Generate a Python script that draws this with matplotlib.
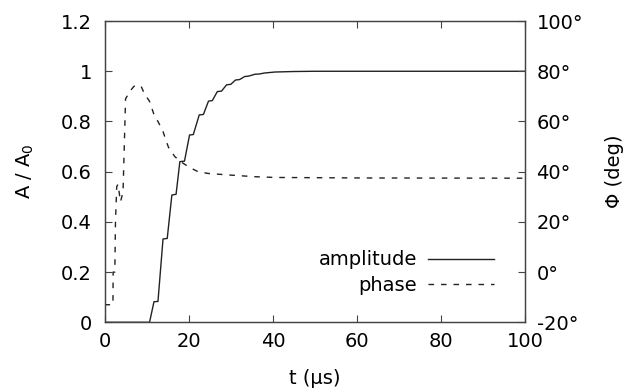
import matplotlib

matplotlib.use("Agg")
import matplotlib.pyplot as plt

plt.rc("font", family="DejaVu Sans", size=14)

# amplitude A/A0 vs time (us)
amp_t = [0, 10.7, 11.75, 12.7, 13.9, 14.9, 16.0, 17.0, 17.9, 19.0, 20.2, 21.1,
         22.5, 23.5, 24.7, 25.6, 26.8, 27.8, 29.0, 30.0, 31.1, 32.1, 33.3,
         34.3, 35.7, 36.7, 38.0, 40.5, 45, 50, 100]
amp_a = [0, 0, 0.082, 0.083, 0.332, 0.334, 0.507, 0.51, 0.64, 0.642, 0.746,
         0.748, 0.826, 0.828, 0.881, 0.883, 0.919, 0.921, 0.946, 0.948, 0.965,
         0.967, 0.979, 0.981, 0.988, 0.989, 0.993, 0.997, 0.999, 1.0, 1.0]

# phase (deg) vs time (us)
ph_t = [0, 2.0, 2.05, 2.45, 2.6, 2.9, 3.2, 3.8, 4.4, 5.0, 6.0, 7.0, 7.9, 8.7,
        9.5, 10.7, 11.9, 12.7, 13.9, 14.7, 15.2, 16.7, 18.1, 19.0, 20.2, 22.2,
        24.6, 29.4, 35.7, 40.5, 60, 100]
ph_deg = [-13, -13, 0, 0, 20, 34, 35, 28, 32, 69, 72, 74, 74.5, 74, 71, 68,
          62, 60, 56, 52, 49.7, 46, 44, 43, 41.7, 40, 39.3, 38.7, 38.0, 37.7,
          37.5, 37.4]

xticks = [0, 20, 40, 60, 80, 100]
yticks = [0, 0.2, 0.4, 0.6, 0.8, 1.0, 1.2]
yticklabels = ["0", "0.2", "0.4", "0.6", "0.8", "1", "1.2"]
phticks = [-20, 0, 20, 40, 60, 80, 100]

spine_col = "#444444"

fig = plt.figure(figsize=(6.24, 3.9), dpi=100)
ax = fig.add_axes([0.1675, 0.1736, 0.6745, 0.7724])
ax2 = ax.twinx()

l1, = ax.plot(amp_t, amp_a, color="#222222", lw=1.0, label="amplitude")
l2, = ax2.plot(ph_t, ph_deg, color="#222222", lw=1.0, dashes=(4, 5),
               label="phase")

ax.set_xlim(0, 100)
ax.set_ylim(0, 1.2)
ax2.set_ylim(-20, 100)

ax.set_xticks(xticks)
ax.set_yticks(yticks)
ax.set_yticklabels(yticklabels)
ax2.set_yticks(phticks)
ax2.set_yticklabels([f"{v}°" for v in phticks])

ax.tick_params(axis="x", direction="in", top=True, length=5, width=0.8,
               color=spine_col, pad=7)
ax.tick_params(axis="y", direction="in", length=5, width=0.8,
               color=spine_col, pad=9)
ax2.tick_params(axis="y", direction="in", length=5, width=0.8,
                color=spine_col, pad=8)
for a in (ax, ax2):
    for s in a.spines.values():
        s.set_color(spine_col)
        s.set_linewidth(0.9)

ax.set_xlabel("t (µs)", labelpad=13)
ax.set_ylabel("A / A$_0$", labelpad=18)
ax2.set_ylabel("Φ (deg)", labelpad=16)

ax2.legend(handles=[l1, l2], loc="lower right",
           bbox_to_anchor=(0.925, 0.09), frameon=False, markerfirst=False,
           handlelength=3.4, handletextpad=0.55, labelspacing=0.35,
           borderpad=0, borderaxespad=0)

fig.savefig("out.png", dpi=100)
